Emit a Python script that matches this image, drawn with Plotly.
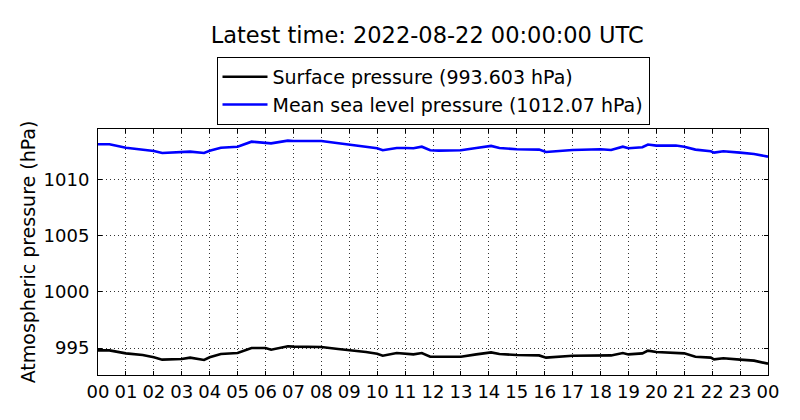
import pandas as pd
import plotly.graph_objects as go

# horas desde 2022-08-21 00:00 UTC y presiones (hPa)
horas_msl = [0.0, 0.41, 1.0, 1.6, 2.0, 2.3, 3.0, 3.3, 3.8, 4.0, 4.4, 5.0, 5.5, 6.0, 6.2,
             6.8, 7.0, 8.0, 8.6, 9.0, 9.6, 10.0, 10.2, 10.7, 11.0, 11.3, 11.6, 11.9, 12.2,
             13.0, 13.55, 14.08, 14.38, 15.0, 15.8, 16.05, 17.0, 18.0, 18.38, 18.8, 19.0,
             19.5, 19.7, 20.0, 20.7, 21.0, 21.4, 21.95, 22.07, 22.4, 23.0, 23.5, 24.0]
presion_msl = [1013.19, 1013.19, 1012.88, 1012.74, 1012.59, 1012.41, 1012.50, 1012.53,
               1012.41, 1012.60, 1012.88, 1012.97, 1013.42, 1013.33, 1013.27, 1013.51,
               1013.48, 1013.48, 1013.30, 1013.19, 1013.01, 1012.83, 1012.65, 1012.86,
               1012.86, 1012.83, 1012.97, 1012.65, 1012.62, 1012.65, 1012.86, 1013.04,
               1012.86, 1012.74, 1012.71, 1012.50, 1012.68, 1012.74, 1012.68, 1012.97,
               1012.83, 1012.92, 1013.16, 1013.07, 1013.07, 1012.97, 1012.71, 1012.56,
               1012.44, 1012.56, 1012.44, 1012.32, 1012.08]

horas_sup = horas_msl
presion_sup = [994.79, 994.79, 994.52, 994.37, 994.17, 993.96, 994.02, 994.14, 993.93,
               994.17, 994.46, 994.55, 995.00, 995.00, 994.85, 995.15, 995.12, 995.09,
               994.91, 994.82, 994.64, 994.49, 994.31, 994.55, 994.49, 994.43, 994.55,
               994.22, 994.22, 994.22, 994.43, 994.61, 994.46, 994.37, 994.34, 994.14,
               994.31, 994.37, 994.34, 994.55, 994.43, 994.52, 994.76, 994.64, 994.58,
               994.52, 994.22, 994.14, 993.99, 994.08, 993.96, 993.87, 993.60]

inicio = pd.Timestamp("2022-08-21 00:00:00")
fin = pd.Timestamp("2022-08-22 00:00:00")

def a_tiempo(horas):
    return [inicio + pd.Timedelta(hours=h) for h in horas]

fuente = "DejaVu Sans"

fig = go.Figure()
fig.add_trace(go.Scatter(
    x=a_tiempo(horas_sup), y=presion_sup, mode="lines",
    name="Surface pressure (993.603 hPa)",
    line=dict(color="black", width=2.6),
))
fig.add_trace(go.Scatter(
    x=a_tiempo(horas_msl), y=presion_msl, mode="lines",
    name="Mean sea level pressure (1012.07 hPa)",
    line=dict(color="blue", width=2.6),
))

eje = dict(
    showline=True, linecolor="black", linewidth=1, mirror="ticks",
    ticks="inside", ticklen=4, tickcolor="black",
    showgrid=True, gridcolor="rgba(0,0,0,0.8)", gridwidth=1, griddash="1px,3px",
    zeroline=False, tickfont=dict(family=fuente, size=18, color="black"),
)

fig.update_xaxes(
    **eje, type="date", range=[inicio, fin],
    dtick=3600000, tickformat="%H", tick0=inicio,
)
fig.update_yaxes(
    **eje, range=[992.59, 1014.55], tick0=995, dtick=5, ticklabelstandoff=4,
    title=dict(text="Atmospheric pressure (hPa)", font=dict(family=fuente, size=19, color="black"),
               standoff=2),
)

fig.update_layout(
    width=800, height=420,
    paper_bgcolor="white", plot_bgcolor="white",
    margin=dict(l=98, r=32, t=129, b=45),
    title=dict(text="Latest time: 2022-08-22 00:00:00 UTC", x=0.534, xanchor="center",
               y=0.917, yanchor="middle", font=dict(family=fuente, size=22.5, color="black")),
    legend=dict(x=0.5, xanchor="center", y=1.293, yanchor="top",
                bordercolor="black", borderwidth=1, bgcolor="white", itemwidth=45,
                font=dict(family=fuente, size=19, color="black")),
    font=dict(family=fuente, color="black"),
)

# quitar el margen por defecto del body para que la figura quede en (0, 0)
fig.write_html("out.html", config={"displayModeBar": False},
               post_script="document.body.style.margin='0';")
